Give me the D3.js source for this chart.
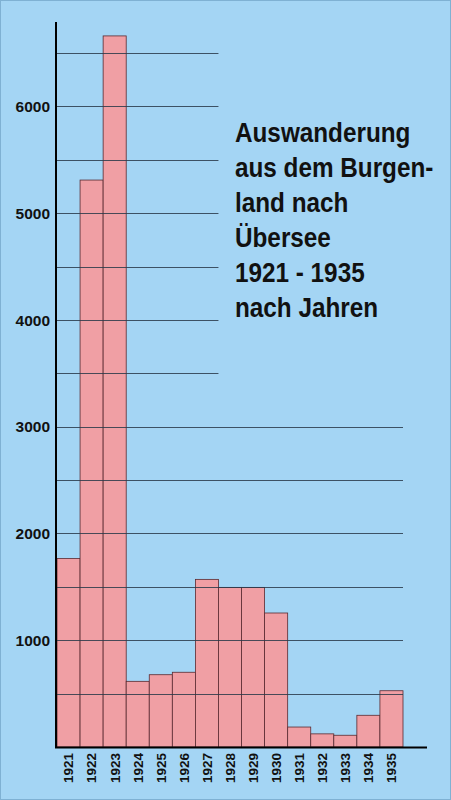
<!DOCTYPE html>
<html>
<head>
<meta charset="utf-8">
<script src="https://cdn.jsdelivr.net/npm/d3@7/dist/d3.min.js"></script>
<style>
  html, body { margin: 0; padding: 0; background: #a4d5f4; }
  svg { display: block; }
</style>
</head>
<body>
<svg id="chart" width="451" height="800"></svg>
<script>
// ---- data ----
const years = ["1921","1922","1923","1924","1925","1926","1927","1928","1929","1930","1931","1932","1933","1934","1935"];
const emigrants = [1765, 5310, 6660, 615, 677, 700, 1570, 1495, 1495, 1255, 187, 123, 110, 297, 527];
const gridValues = [500,1000,1500,2000,2500,3000,3500,4000,4500,5000,5500,6000,6500];
const yTickLabels = [1000,2000,3000,4000,5000,6000];
const titleLines = ["Auswanderung", "aus dem Burgen-", "land nach", "Übersee", "1921 - 1935", "nach Jahren"];

// ---- layout ----
const W = 451, H = 800;
const svg = d3.select("#chart");

svg.append("rect").attr("x", 0.5).attr("y", 0.5).attr("width", W - 1).attr("height", H - 1)
  .attr("fill", "#a4d5f4").attr("stroke", "#7fb1d3").attr("stroke-width", 1);

const x = d3.scaleBand().domain(years).range([57, 403]).padding(0);
const y = d3.scaleLinear().domain([0, 6500]).range([747, 53]);

// bars
svg.append("g").selectAll("rect").data(years).join("rect")
  .attr("x", d => x(d))
  .attr("y", (d, i) => y(emigrants[i]))
  .attr("width", x.bandwidth())
  .attr("height", (d, i) => y(0) - y(emigrants[i]))
  .attr("fill", "#f09fa4")
  .attr("stroke", "#5a2a30")
  .attr("stroke-width", 0.8);

// gridlines (drawn over bars)
const xEndUpper = x("1927") + x.bandwidth();
const xEndLower = x("1935") + x.bandwidth();
svg.append("g").selectAll("line").data(gridValues).join("line")
  .attr("x1", 57)
  .attr("x2", d => d >= 3500 ? xEndUpper : xEndLower)
  .attr("y1", d => Math.round(y(d)) + 0.5)
  .attr("y2", d => Math.round(y(d)) + 0.5)
  .attr("stroke", "#2a3a4a")
  .attr("stroke-opacity", 0.85)
  .attr("stroke-width", 1);

// y tick labels
svg.append("g").selectAll("text").data(yTickLabels).join("text")
  .attr("x", 50)
  .attr("y", d => y(d))
  .attr("dy", "0.36em")
  .attr("text-anchor", "end")
  .attr("font-family", "Liberation Sans, Arial, sans-serif")
  .attr("font-weight", "bold")
  .attr("font-size", 15.5)
  .attr("fill", "#111")
  .text(d => d);

// x tick labels (rotated)
svg.append("g").selectAll("text").data(years).join("text")
  .attr("transform", d => `translate(${x(d) + x.bandwidth() / 2},753) rotate(-90)`)
  .attr("dy", "0.36em")
  .attr("text-anchor", "end")
  .attr("font-family", "Liberation Sans, Arial, sans-serif")
  .attr("font-weight", "bold")
  .attr("font-size", 13.5)
  .attr("fill", "#111")
  .text(d => d);

// axes lines
svg.append("line").attr("x1", 56).attr("x2", 56).attr("y1", 22).attr("y2", 748)
  .attr("stroke", "#000").attr("stroke-width", 2);
svg.append("line").attr("x1", 55).attr("x2", 427).attr("y1", 747.5).attr("y2", 747.5)
  .attr("stroke", "#000").attr("stroke-width", 2);

// title (condensed bold)
svg.append("g").attr("transform", "translate(235,0) scale(0.9,1)")
  .selectAll("text").data(titleLines).join("text")
  .attr("x", 0)
  .attr("y", (d, i) => 142 + i * 35)
  .attr("font-family", "Liberation Sans, Arial, sans-serif")
  .attr("font-weight", "bold")
  .attr("font-size", 27)
  .attr("fill", "#111")
  .text(d => d);
</script>
</body>
</html>
